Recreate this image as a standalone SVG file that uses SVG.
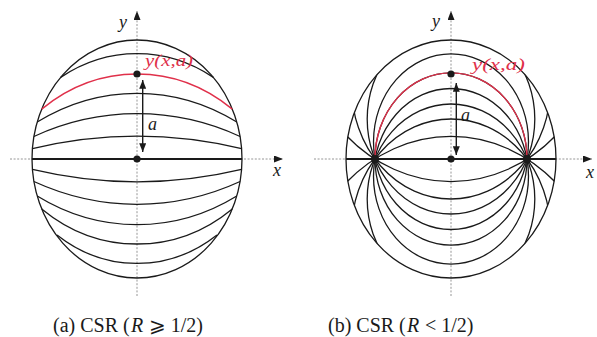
<svg xmlns="http://www.w3.org/2000/svg" width="597" height="337" viewBox="0 0 597 337">
<style>
.bg{fill:#fff}
.curve{fill:none;stroke:#1a1a1a;stroke-width:1.3}
.red{fill:none;stroke:#e0304a;stroke-width:1.4}
.axisline{fill:none;stroke:#1a1a1a;stroke-width:2}
.dash{fill:none;stroke:#8a8a8a;stroke-width:0.9;stroke-dasharray:2 1.6}
.arr{fill:none;stroke:#1a1a1a;stroke-width:1.4}
.dot{fill:#1a1a1a}
.lbl{font-family:"Liberation Serif","DejaVu Serif",serif;font-style:italic;font-size:18px;fill:#1a1a1a}
.rlbl{font-family:"Liberation Serif","DejaVu Serif",serif;font-style:italic;font-size:17px;fill:#e0304a}
.cap{font-family:"Liberation Serif","DejaVu Serif","DejaVu Sans",serif;font-size:20px;fill:#1a1a1a}
.capi{font-family:"Liberation Serif","DejaVu Serif",serif;font-style:italic;font-size:20px;fill:#1a1a1a}
</style>
<defs>
<marker id="ah" viewBox="0 0 10 8" refX="10" refY="4" markerWidth="10" markerHeight="7" markerUnits="userSpaceOnUse" orient="auto-start-reverse">
<path d="M0,0 L10,4 L0,8 Z" fill="#1a1a1a"/>
</marker>
<marker id="axh" viewBox="0 0 9 7" refX="9" refY="3.5" markerWidth="9" markerHeight="7" markerUnits="userSpaceOnUse" orient="auto">
<path d="M0,0 L9,3.5 L0,7 Z" fill="#1a1a1a"/>
</marker>
<clipPath id="clipB"><ellipse cx="451" cy="159" rx="105" ry="119"/></clipPath>
</defs>
<rect class="bg" x="0" y="0" width="597" height="337"/>

<g id="panel-a">
  <g id="axes-a">
    <line class="dash" x1="10" y1="159" x2="283" y2="159" marker-end="url(#axh)"/>
    <line class="dash" x1="137" y1="296" x2="137" y2="11" marker-end="url(#axh)"/>
  </g>
  <g id="curves-a">
    <ellipse class="curve" cx="137" cy="159" rx="105" ry="119"/>
    <line class="axisline" x1="32" y1="159" x2="242" y2="159"/>
    <path class="curve" d="M32.4,148.7 A507.4,575 0 0 1 241.6,148.7"/>
    <path class="curve" d="M33.9,136.5 A274.5,311.1 0 0 1 240.1,136.5"/>
    <path class="curve" d="M37.2,122 A209.4,237.3 0 0 1 236.8,122"/>
    <path class="curve" d="M60.6,77.4 A149.6,169.5 0 0 1 213.4,77.4"/>
    <path class="curve" d="M32.4,169.3 A507.4,575 0 0 0 241.6,169.3"/>
    <path class="curve" d="M33.9,181.5 A274.5,311.1 0 0 0 240.1,181.5"/>
    <path class="curve" d="M37.2,196 A209.4,237.3 0 0 0 236.8,196"/>
    <path class="curve" d="M41.7,208.9 A162.1,183.7 0 0 0 232.3,208.9"/>
    <path class="curve" d="M57,235 A140,158.7 0 0 0 217,235"/>
    <path class="red" d="M41.7,109.1 A162.1,183.7 0 0 1 232.3,109.1"/>
  </g>
  <g id="marks-a">
    <circle class="dot" cx="137" cy="159" r="3.6"/>
    <circle class="dot" cx="137" cy="74" r="3.6"/>
    <line class="arr" x1="142.7" y1="80" x2="142.7" y2="152" marker-start="url(#ah)" marker-end="url(#ah)"/>
  </g>
  <g id="labels-a">
    <text class="lbl" x="119" y="28">y</text>
    <text class="lbl" x="273" y="176">x</text>
    <text class="lbl" x="148" y="130">a</text>
    <text class="rlbl" x="145" y="66" textLength="48" lengthAdjust="spacingAndGlyphs">y(x,a)</text>
    <text class="cap" x="53" y="332">(a) CSR (</text>
    <text class="capi" x="131" y="332">R</text>
    <text class="cap" x="149" y="332">⩾ 1/2)</text>
  </g>
</g>

<g id="panel-b">
  <g id="axes-b">
    <line class="dash" x1="314" y1="159" x2="592" y2="159" marker-end="url(#axh)"/>
    <line class="dash" x1="451" y1="296" x2="451" y2="11" marker-end="url(#axh)"/>
  </g>
  <g id="curves-b">
    <ellipse class="curve" cx="451" cy="159" rx="105" ry="119"/>
    <line class="axisline" x1="346" y1="159" x2="556" y2="159"/>
    <g clip-path="url(#clipB)">
      <ellipse class="curve" cx="451" cy="312.2" rx="155.1" ry="175.8"/>
      <ellipse class="curve" cx="451" cy="231.8" rx="99.5" ry="112.8"/>
      <ellipse class="curve" cx="451" cy="199" rx="83.8" ry="95"/>
      <ellipse class="curve" cx="451" cy="176.3" rx="77.5" ry="87.8"/>
      <ellipse class="curve" cx="451" cy="159" rx="76" ry="86.1"/>
      <ellipse class="curve" cx="451" cy="141.7" rx="77.5" ry="87.8"/>
      <ellipse class="curve" cx="451" cy="119" rx="83.8" ry="95"/>
      <ellipse class="curve" cx="451" cy="86.2" rx="99.5" ry="112.8"/>
      <ellipse class="curve" cx="451" cy="5.8" rx="155.1" ry="175.8"/>
    </g>
    <path class="red" d="M375,159 A76,86.1 0 0 1 527,159"/>
  </g>
  <g id="marks-b">
    <circle class="dot" cx="375" cy="159" r="4"/>
    <circle class="dot" cx="527" cy="159" r="4"/>
    <circle class="dot" cx="451" cy="159" r="3.6"/>
    <circle class="dot" cx="451" cy="74" r="3.6"/>
    <line class="arr" x1="456.3" y1="83" x2="456.3" y2="155" marker-start="url(#ah)" marker-end="url(#ah)"/>
  </g>
  <g id="labels-b">
    <text class="lbl" x="432" y="27">y</text>
    <text class="lbl" x="586" y="178">x</text>
    <text class="lbl" x="461" y="121">a</text>
    <text class="rlbl" x="472" y="70" textLength="53" lengthAdjust="spacingAndGlyphs">y(x,a)</text>
    <text class="cap" x="328" y="332">(b) CSR (</text>
    <text class="capi" x="407" y="332">R</text>
    <text class="cap" x="425" y="332">&lt; 1/2)</text>
  </g>
</g>
</svg>
